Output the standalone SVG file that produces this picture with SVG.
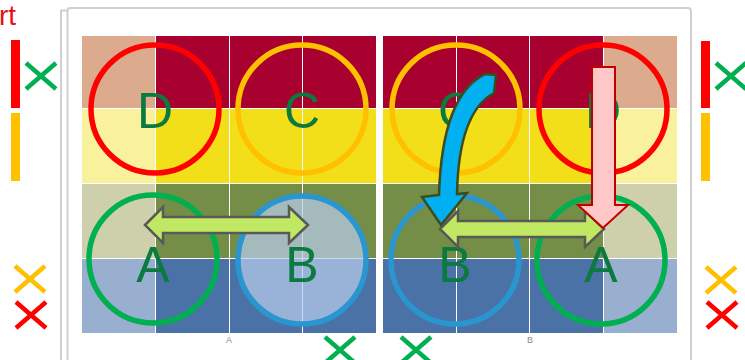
<svg xmlns="http://www.w3.org/2000/svg" width="745" height="360" viewBox="0 0 745 360">
<style>
.frame{fill:none;stroke:#CFCFCF;stroke-width:2}
.ring{fill:none;stroke-width:5.5}
.red{stroke:#FF0000}.org{stroke:#FFC000}.grn{stroke:#00B050}.blu{stroke:#2A96D0}
.lt{font-family:"Liberation Sans",Arial,sans-serif;font-size:50px;fill:#0B7A3F;text-anchor:middle}
.x{stroke-width:4.5;stroke-linecap:butt;fill:none}
.dbl{fill:#C0E862;stroke:#595959;stroke-width:2.5;stroke-linejoin:miter}
.small{font-family:"Liberation Sans",Arial,sans-serif;font-size:9px;fill:#8A8A8A;text-anchor:middle}
</style>
<defs>
<g id="xmark"><path d="M0,0 L30,26 M30,0 L0,26"/></g>
</defs>
<rect width="745" height="360" fill="#FFFFFF"/>
<text x="-1" y="25" font-family="Liberation Sans,Arial,sans-serif" font-size="28" fill="#E3101A">rt</text>
<g id="frames">
<path class="frame" d="M61,362 V10.5 H67" stroke-width="1.5"/>
<path class="frame" d="M67.5,362 V11 Q67.5,8 70.5,8 H688 Q691,8 691,11 V362"/>
</g>
<g id="panel-left">
<rect x="82" y="36" width="73" height="72" fill="#DCAA8C"/>
<rect x="156" y="36" width="73" height="72" fill="#A8002F"/>
<rect x="230" y="36" width="72" height="72" fill="#A8002F"/>
<rect x="303" y="36" width="73" height="72" fill="#A8002F"/>
<rect x="82" y="109" width="73" height="74" fill="#F9F19B"/>
<rect x="156" y="109" width="73" height="74" fill="#F2DE19"/>
<rect x="230" y="109" width="72" height="74" fill="#F2DE19"/>
<rect x="303" y="109" width="73" height="74" fill="#F2DE19"/>
<rect x="82" y="184" width="73" height="74" fill="#CED0AB"/>
<rect x="156" y="184" width="73" height="74" fill="#748E48"/>
<rect x="230" y="184" width="72" height="74" fill="#748E48"/>
<rect x="303" y="184" width="73" height="74" fill="#748E48"/>
<rect x="82" y="259" width="73" height="74" fill="#99AFCF"/>
<rect x="156" y="259" width="73" height="74" fill="#4A72A6"/>
<rect x="230" y="259" width="72" height="74" fill="#4A72A6"/>
<rect x="303" y="259" width="73" height="74" fill="#4A72A6"/>
</g>
<g id="panel-right">
<rect x="383" y="36" width="73" height="72" fill="#A8002F"/>
<rect x="457" y="36" width="72" height="72" fill="#A8002F"/>
<rect x="530" y="36" width="73" height="72" fill="#A8002F"/>
<rect x="604" y="36" width="73" height="72" fill="#DCAA8C"/>
<rect x="383" y="109" width="73" height="74" fill="#F2DE19"/>
<rect x="457" y="109" width="72" height="74" fill="#F2DE19"/>
<rect x="530" y="109" width="73" height="74" fill="#F2DE19"/>
<rect x="604" y="109" width="73" height="74" fill="#F9F19B"/>
<rect x="383" y="184" width="73" height="74" fill="#748E48"/>
<rect x="457" y="184" width="72" height="74" fill="#748E48"/>
<rect x="530" y="184" width="73" height="74" fill="#748E48"/>
<rect x="604" y="184" width="73" height="74" fill="#CED0AB"/>
<rect x="383" y="259" width="73" height="74" fill="#4A72A6"/>
<rect x="457" y="259" width="72" height="74" fill="#4A72A6"/>
<rect x="530" y="259" width="73" height="74" fill="#4A72A6"/>
<rect x="604" y="259" width="73" height="74" fill="#99AFCF"/>
</g>
<g id="node-left-D"><circle class="ring red" cx="155" cy="109" r="64"/><text class="lt" x="155" y="128">D</text></g>
<g id="node-left-C"><circle class="ring org" cx="302" cy="109" r="64"/><text class="lt" x="302" y="128">C</text></g>
<g id="node-left-A"><circle class="ring grn" cx="153" cy="259" r="64"/><text class="lt" x="153" y="282">A</text></g>
<g id="node-left-B"><circle class="ring blu" cx="302" cy="260" r="64" style="fill:#B8CCEC;fill-opacity:0.71"/><text class="lt" x="302" y="282">B</text></g>
<g id="node-right-C"><circle class="ring org" cx="456" cy="109" r="64"/><text class="lt" x="456" y="128">C</text></g>
<g id="node-right-D"><circle class="ring red" cx="603" cy="109" r="64"/><text class="lt" x="603" y="128">D</text></g>
<g id="node-right-B"><circle class="ring blu" cx="455" cy="260" r="64"/><text class="lt" x="455" y="282">B</text></g>
<g id="node-right-A"><circle class="ring grn" cx="601" cy="260" r="64"/><text class="lt" x="601" y="282">A</text></g>
<g id="connectors">
<polygon class="dbl" points="145,225 163,207 163,217 289,217 289,207 308,225 289,243 289,233 163,233 163,243"/>
<polygon class="dbl" points="440,229 458,211 458,221 585,221 585,211 604,229 585,247 585,237 458,237 458,247"/>
<path d="M485,74 C456,88 441,130 439,195 L422,197 L441,225 L467,193 L457,194 C458,142 470,106 494,93 L496,75 Z" fill="#00B0F0" stroke="#3C4C1E" stroke-width="2.5" stroke-linejoin="miter"/>
<polygon points="592,67 615,67 615,205 628,205 603,228 578,205 592,205" fill="#FFC7C7" stroke="#C00000" stroke-width="2"/>
</g>
<text class="small" x="229" y="343">A</text>
<text class="small" x="530" y="343">B</text>
<g id="markers">
<rect x="11" y="40" width="9" height="68" fill="#FF0000"/>
<rect x="11" y="113" width="9" height="68" fill="#FFC000"/>
<rect x="701" y="41" width="9" height="67" fill="#FF0000"/>
<rect x="701" y="113" width="9" height="68" fill="#FFC000"/>
<use href="#xmark" class="x" stroke="#00B050" transform="translate(26,63)"/>
<use href="#xmark" class="x" stroke="#00B050" transform="translate(716,63)"/>
<use href="#xmark" class="x" stroke="#FFC000" transform="translate(15,266)"/>
<use href="#xmark" class="x" stroke="#FF0000" transform="translate(16,302)"/>
<use href="#xmark" class="x" stroke="#FFC000" transform="translate(706,267)"/>
<use href="#xmark" class="x" stroke="#FF0000" transform="translate(707,302)"/>
<use href="#xmark" class="x" stroke="#00B050" transform="translate(325,337)"/>
<use href="#xmark" class="x" stroke="#00B050" transform="translate(401,337)"/>
</g>
</svg>
